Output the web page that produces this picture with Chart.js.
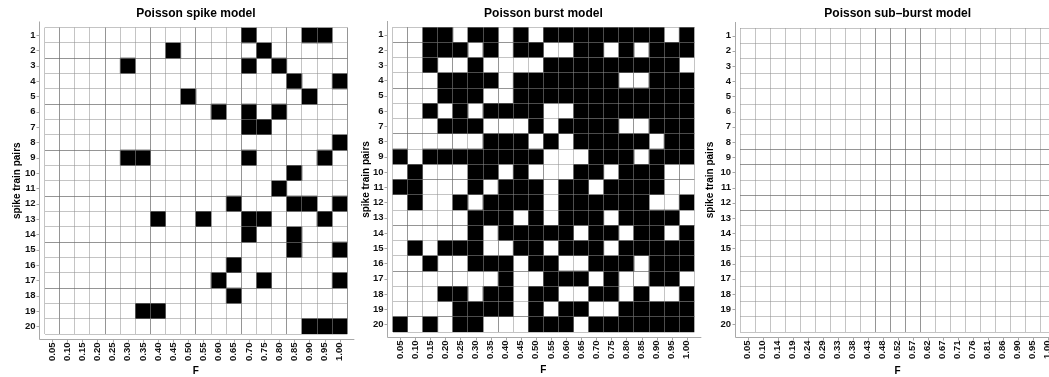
<!DOCTYPE html>
<html>
<head>
<meta charset="utf-8">
<script src="https://cdn.jsdelivr.net/npm/chart.js@4.4.1/dist/chart.umd.min.js"></script>
<style>
  html, body { margin: 0; padding: 0; background: #fff; overflow: hidden; width: 1049px; height: 377px; }
  .panel { position: absolute; top: 0; height: 377px; }
</style>
</head>
<body>
<div class="panel" style="left:0px;width:360px"><canvas id="spikeChart"></canvas></div>
<div class="panel" style="left:355px;width:352px"><canvas id="burstChart"></canvas></div>
<div class="panel" style="left:700px;width:368px"><canvas id="subBurstChart"></canvas></div>
<script>
// Row labels: spike train pairs 1..20
const rowLabels = ['1','2','3','4','5','6','7','8','9','10','11','12','13','14','15','16','17','18','19','20'];

// F values on the x axis
const fLabels20 = ['0.05','0.10','0.15','0.20','0.25','0.30','0.35','0.40','0.45','0.50',
                   '0.55','0.60','0.65','0.70','0.75','0.80','0.85','0.90','0.95','1.00'];
const fLabels21 = ['0.05','0.10','0.14','0.19','0.24','0.29','0.33','0.38','0.43','0.48','0.52',
                   '0.57','0.62','0.67','0.71','0.76','0.81','0.86','0.90','0.95','1.00'];

// One string per spike train pair, one character per F value ('1' = filled cell)
const spikeGrid = [
  '00000000000001000110',
  '00000000100000100000',
  '00000100000001010000',
  '00000000000000001001',
  '00000000010000000100',
  '00000000000101010000',
  '00000000000001100000',
  '00000000000000000001',
  '00000110000001000010',
  '00000000000000001000',
  '00000000000000010000',
  '00000000000010001101',
  '00000001001001100010',
  '00000000000001001000',
  '00000000000000001001',
  '00000000000010000000',
  '00000000000100100001',
  '00000000000010000000',
  '00000011000000000000',
  '00000000000000000111'
];

const burstGrid = [
  '00110110101111111101',
  '00111010110011010111',
  '00100100001111111110',
  '00011110111111100111',
  '00011100111111111111',
  '00101011110011111111',
  '00011100010111100111',
  '00000011101011111011',
  '10111111110001110111',
  '01000110100011011100',
  '11000101110110111100',
  '01001011110111111001',
  '00000111010111011110',
  '00000101111101101101',
  '01011100110111011111',
  '00100111011001110111',
  '00000001001110100110',
  '00011011011001101001',
  '00001111010110011111',
  '10101100011101111111'
];

const subBurstGrid = [
  '000000000000000000000',
  '000000000000000000000',
  '000000000000000000000',
  '000000000000000000000',
  '000000000000000000000',
  '000000000000000000000',
  '000000000000000000000',
  '000000000000000000000',
  '000000000000000000000',
  '000000000000000000000',
  '000000000000000000000',
  '000000000000000000000',
  '000000000000000000000',
  '000000000000000000000',
  '000000000000000000000',
  '000000000000000000000',
  '000000000000000000000',
  '000000000000000000000',
  '000000000000000000000',
  '000000000000000000000'
];

Chart.defaults.font.family = "'Liberation Sans', Arial, sans-serif";

// Semi-transparent grid: light grey over white cells, dark grey over filled cells
const GRID_LIGHT = 'rgba(143,143,143,0.53)';
const GRID_DARK = 'rgba(106,106,106,0.71)';
const AXIS_COLOR = '#a8a8a8';

// Turn a grid of '0'/'1' strings into floating bars: row on y, [col, col+1] on the hidden value axis
function cellsFrom(grid) {
  const cells = [];
  grid.forEach((row, r) => {
    [...row].forEach((v, c) => {
      if (v === '1') cells.push({ y: rowLabels[r], x: [c, c + 1] });
    });
  });
  return cells;
}

// Grid line colour per boundary; the closing boundary uses the scale context
function gridColor(darkLines, count) {
  return ctx => {
    const i = ctx.type === 'tick' ? ctx.index : count;
    return darkLines.includes(i) ? GRID_DARK : GRID_LIGHT;
  };
}

// Axis lines set a few pixels away from the plot area, with short outside ticks
const offsetAxes = {
  id: 'offsetAxes',
  afterDraw(chart) {
    const { ctx, chartArea: a } = chart;
    const xs = chart.scales.x, ys = chart.scales.y;
    const ax = Math.round(a.left - 5.5) + 0.5;
    const ay = Math.round(a.bottom + 5) + 0.5;
    ctx.save();
    ctx.strokeStyle = AXIS_COLOR;
    ctx.lineWidth = 1;
    ctx.beginPath();
    ctx.moveTo(ax, a.top - 6);
    ctx.lineTo(ax, ay);
    ctx.lineTo(a.right + 7, ay);
    ys.ticks.forEach((t, i) => {
      const p = Math.round(ys.getPixelForTick(i)) + 0.5;
      ctx.moveTo(ax - 3, p);
      ctx.lineTo(ax, p);
    });
    xs.ticks.forEach((t, i) => {
      const p = Math.round(xs.getPixelForTick(i)) + 0.5;
      ctx.moveTo(p, ay);
      ctx.lineTo(p, ay + 3);
    });
    ctx.stroke();
    ctx.restore();
  }
};

function buildPanel(canvasId, cfg) {
  const nCols = cfg.fLabels.length;
  return new Chart(document.getElementById(canvasId), {
    type: 'bar',
    data: {
      labels: rowLabels,
      datasets: [{
        data: cellsFrom(cfg.grid),
        xAxisID: 'xv',
        yAxisID: 'y',
        backgroundColor: '#000',
        borderWidth: 0,
        barPercentage: 1,
        categoryPercentage: 1
      }]
    },
    options: {
      indexAxis: 'y',
      responsive: true,
      maintainAspectRatio: false,
      animation: false,
      events: [],
      layout: { padding: { left: cfg.padLeft, right: cfg.padRight, top: 0, bottom: 0 } },
      plugins: {
        legend: { display: false },
        tooltip: { enabled: false },
        title: {
          display: true,
          text: cfg.title,
          fullSize: false,
          color: '#000',
          font: { size: 12, weight: 'bold' },
          padding: { top: 6, bottom: cfg.titleBottom }
        }
      },
      scales: {
        xv: { type: 'linear', display: false, min: 0, max: nCols },
        x: {
          type: 'category',
          labels: cfg.fLabels,
          position: 'bottom',
          offset: true,
          grid: { offset: true, z: 1, drawTicks: false, color: gridColor(cfg.darkCols, nCols), lineWidth: 1 },
          border: { display: false },
          ticks: {
            autoSkip: false, minRotation: 90, maxRotation: 90, padding: 8.5,
            color: '#111', font: { size: 9.5, weight: 'bold' }
          },
          title: {
            display: true, text: 'F', color: '#000',
            font: { size: 10, weight: 'bold' }, padding: { top: 0, bottom: cfg.fPad }
          },
          afterFit: s => { s.height = cfg.xHeight; }
        },
        y: {
          type: 'category',
          position: 'left',
          offset: true,
          grid: { offset: true, z: 1, drawTicks: false, color: gridColor(cfg.darkRows, rowLabels.length), lineWidth: 1 },
          border: { display: false },
          ticks: { padding: 9, color: '#111', font: { size: 9.5, weight: 'bold' } },
          title: {
            display: true, text: 'spike train pairs', color: '#000',
            font: { size: 10, weight: 'bold' }, padding: { top: cfg.yTitlePad, bottom: 0 }
          },
          afterFit: s => { s.width = cfg.yWidth; }
        }
      }
    },
    plugins: [offsetAxes]
  });
}

buildPanel('spikeChart', {
  title: 'Poisson spike model', grid: spikeGrid, fLabels: fLabels20,
  padLeft: 5, padRight: 10, yWidth: 39.5, xHeight: 43, titleBottom: 7.1,
  yTitlePad: 6.5, fPad: 0,
  darkCols: [1, 4, 7, 10, 13, 16, 20], darkRows: [2, 5, 8, 11, 14, 17]
});

buildPanel('burstChart', {
  title: 'Poisson burst model', grid: burstGrid, fLabels: fLabels20,
  padLeft: 0, padRight: 10, yWidth: 37.5, xHeight: 45, titleBottom: 6.6,
  yTitlePad: 5.5, fPad: 1,
  darkCols: [1, 4, 7, 10, 13, 16, 19], darkRows: [1, 4, 7, 10, 13, 16, 19]
});

buildPanel('subBurstChart', {
  title: 'Poisson sub\u2013burst model', grid: subBurstGrid, fLabels: fLabels21,
  padLeft: 0, padRight: 10.4, yWidth: 40, xHeight: 45, titleBottom: 7.6,
  yTitlePad: 4, fPad: 0,
  darkCols: [9, 10, 11, 12], darkRows: [8, 9, 11, 12]
});
</script>
</body>
</html>
